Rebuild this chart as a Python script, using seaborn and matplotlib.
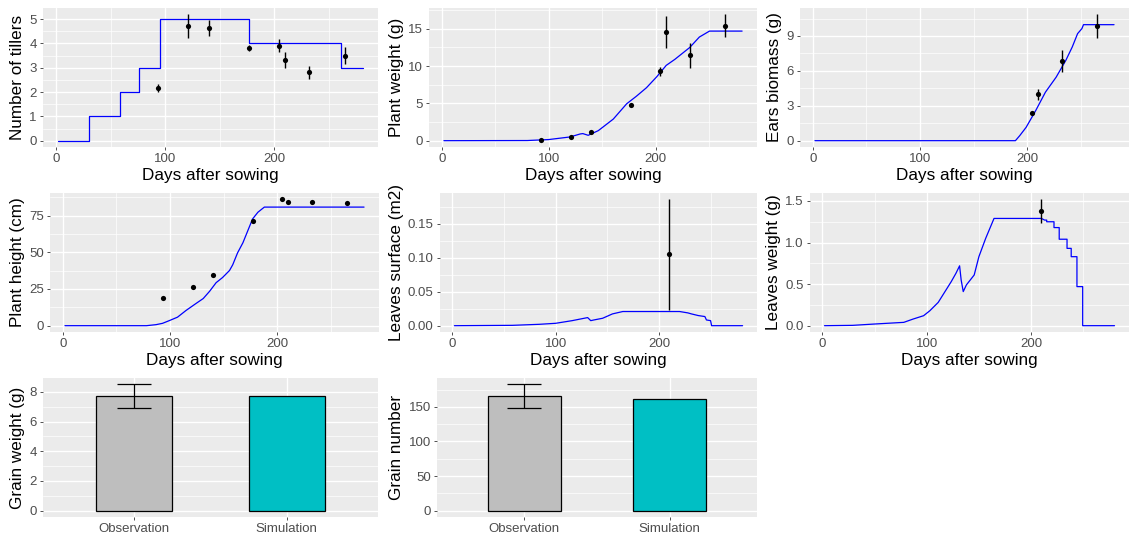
import numpy as np
import pandas as pd
import matplotlib
matplotlib.use("Agg")
import matplotlib.pyplot as plt
from matplotlib.ticker import MultipleLocator, AutoMinorLocator, FormatStrFormatter
import seaborn as sns

# 观测日期
obs_days = [93, 121, 140, 177, 204, 210, 232, 265]

# 分蘖数
till_sim_days = [2, 30, 59, 76, 95, 177, 261, 281]
till_sim = [0, 1, 2, 3, 5, 4, 3, 3]
till_obs = [2.17, 4.72, 4.65, 3.83, 3.90, 3.33, 2.82, 3.50]
till_sd = [0.15, 0.48, 0.33, 0.12, 0.27, 0.32, 0.27, 0.35]

# 植株重量
pw_sim_days = [2, 80, 100, 120, 129.5, 132, 137, 146.5, 160.5, 173, 182, 191.5, 201,
               210, 218, 232, 241, 250.5, 281]
pw_sim = [0, 0.02, 0.15, 0.5, 0.9, 0.95, 0.72, 1.35, 2.9, 4.95, 5.95, 7.1, 8.55,
          10.1, 10.9, 12.5, 13.9, 14.7, 14.7]
pw_obs = [0.05, 0.54, 1.13, 4.73, 9.32, 14.6, 11.44, 15.45]
pw_sd = [0.05, 0.10, 0.15, 0.20, 0.60, 2.15, 1.70, 1.50]

# 穗生物量
ear_sim_days = [2, 189, 193, 199, 208, 217, 227, 236, 242, 247, 251, 252.5, 281]
ear_sim = [0, 0, 0.43, 1.15, 2.6, 4.17, 5.46, 6.9, 8.05, 9.2, 9.63, 9.97, 9.97]
ear_obs_days = [204, 210, 232, 265]
ear_obs = [2.36, 3.97, 6.84, 9.86]
ear_sd = [0.10, 0.50, 0.97, 1.00]

# 株高
ht_sim_days = [2, 78, 87, 93, 99.5, 107, 115, 124, 131, 137, 143, 149, 155.5, 158.5,
               163, 168, 172.5, 177, 182, 188, 281]
ht_sim = [0, 0, 0.7, 1.6, 3.5, 5.8, 10.4, 15, 18.5, 23.5, 29.3, 32.8, 37.6, 41.5,
          49.6, 56.5, 64.6, 72.7, 77.3, 80.8, 80.8]
ht_obs = [18.9, 26.5, 34.6, 71.5, 86.1, 84.2, 84.2, 83.3]

# 叶面积
ls_sim_days = [2, 58, 84, 100, 116, 131, 134, 137, 145.5, 155, 165, 220, 228, 231.5,
               238, 244.5, 246, 250, 251, 281]
ls_sim = [0, 0.0005, 0.002, 0.0035, 0.0074, 0.0119, 0.0074, 0.0084, 0.0109, 0.0173,
          0.0208, 0.0208, 0.0188, 0.0173, 0.0149, 0.0134, 0.0084, 0.0074, 0, 0]
ls_obs_days = [210]
ls_obs = [0.1047]
ls_sd = [0.081]

# 叶重量
lw_sim_days = [2, 29, 50, 78, 87, 97, 103, 111, 117, 123.5, 128, 131.5, 133, 135, 138,
               145.5, 150, 156.5, 164.5, 210, 213, 215, 215, 222, 222, 227, 227, 234.5,
               234.5, 238.5, 238.5, 244, 244, 249.5, 249.5, 280]
lw_sim = [0, 0.004, 0.02, 0.04, 0.08, 0.12, 0.18, 0.28, 0.40, 0.53, 0.63, 0.72, 0.55,
          0.41, 0.49, 0.61, 0.83, 1.05, 1.29, 1.29, 1.27, 1.27, 1.25, 1.25, 1.18, 1.18,
          1.04, 1.04, 0.93, 0.93, 0.83, 0.83, 0.47, 0.47, 0, 0]
lw_obs_days = [210]
lw_obs = [1.38]
lw_sd = [0.14]

# 籽粒
bar_labels = ["Observation", "Simulation"]
gw_values = [7.72, 7.75]
gw_sd = 0.79
gn_values = [165.6, 160.7]
gn_sd = 17.0

sns.set_theme(style="darkgrid")
plt.rcParams["font.family"] = ["Liberation Sans", "DejaVu Sans"]
plt.rcParams["axes.facecolor"] = "#EBEBEB"

W, H = 1130, 538
fig = plt.figure(figsize=(W / 100, H / 100), dpi=100)


def make_ax(x0, x1, y0, y1):
    return fig.add_axes([x0 / W, 1 - y1 / H, (x1 - x0) / W, (y1 - y0) / H])


def style(ax, ymaj, xlabel, ylabel, fmt=None, xminor=True):
    for s in ax.spines.values():
        s.set_visible(False)
    ax.yaxis.set_major_locator(MultipleLocator(ymaj))
    ax.yaxis.set_minor_locator(AutoMinorLocator(2))
    if fmt:
        ax.yaxis.set_major_formatter(FormatStrFormatter(fmt))
    if xminor:
        ax.xaxis.set_major_locator(MultipleLocator(100))
        ax.xaxis.set_minor_locator(AutoMinorLocator(2))
    ax.grid(True, which="major", color="white", linewidth=1.0)
    ax.grid(True, which="minor", color="white", linewidth=0.5)
    if not xminor:
        ax.grid(False, axis="x", which="minor")
    ax.tick_params(which="major", length=2.5, width=0.6, color="#333333",
                   labelsize=9.5, labelcolor="#4D4D4D", pad=2)
    ax.tick_params(which="minor", length=0)
    ax.tick_params(axis="both", which="major", bottom=True, left=True)
    ax.set_xlabel(xlabel, fontsize=12.3, color="black", labelpad=2)
    ax.set_ylabel(ylabel, fontsize=12.3, color="black", labelpad=3)


def time_panel(ax, sdays, ssim, odays, obs, sd, ymaj, ylabel, fmt=None, steps=False):
    sns.lineplot(x=sdays, y=ssim, ax=ax, color="blue", linewidth=0.9,
                 estimator=None, sort=False,
                 drawstyle="steps-post" if steps else "default")
    if sd is not None:
        ax.errorbar(odays, obs, yerr=sd, fmt="none", ecolor="black", elinewidth=1.0)
    sns.scatterplot(x=odays, y=obs, ax=ax, color="black", s=14, edgecolor="black",
                    linewidth=0, zorder=5)
    ax.use_sticky_edges = False
    ax.margins(x=0.05, y=0.05)
    style(ax, ymaj, "Days after sowing", ylabel, fmt)


ax1 = make_ax(43, 378, 8, 147)
time_panel(ax1, till_sim_days, till_sim, obs_days, till_obs, till_sd, 1,
           "Number of tillers", steps=True)

ax2 = make_ax(429, 757, 8, 147)
time_panel(ax2, pw_sim_days, pw_sim, obs_days, pw_obs, pw_sd, 5, "Plant weight (g)")

ax3 = make_ax(800, 1129, 8, 147)
time_panel(ax3, ear_sim_days, ear_sim, ear_obs_days, ear_obs, ear_sd, 3, "Ears biomass (g)")

ax4 = make_ax(50, 379, 193, 332)
time_panel(ax4, ht_sim_days, ht_sim, obs_days, ht_obs, None, 25, "Plant height (cm)")

ax5 = make_ax(440, 757, 193, 332)
time_panel(ax5, ls_sim_days, ls_sim, ls_obs_days, ls_obs, ls_sd, 0.05,
           "Leaves surface (m2)", fmt="%.2f")

ax6 = make_ax(810, 1129, 193, 332)
time_panel(ax6, lw_sim_days, lw_sim, lw_obs_days, lw_obs, lw_sd, 0.5,
           "Leaves weight (g)", fmt="%.1f")


def bar_panel(ax, values, sd, ymaj, ylabel):
    sns.barplot(x=bar_labels, y=values, hue=bar_labels, palette=["#BEBEBE", "#00BFC4"],
                saturation=1, width=0.5, edgecolor="black", linewidth=0.9,
                legend=False, ax=ax, zorder=3)
    ax.errorbar([0], [values[0]], yerr=[sd], fmt="none", ecolor="black",
                elinewidth=0.9, capsize=12.5, capthick=0.9, zorder=4)
    ax.use_sticky_edges = False
    ax.relim()
    ax.autoscale_view()
    ax.margins(y=0.05)
    ax.set_xlim(-0.6, 1.6)
    style(ax, ymaj, "", ylabel, xminor=False)
    ax.set_xlabel("")


ax7 = make_ax(43, 378, 378, 517)
bar_panel(ax7, gw_values, gw_sd, 2, "Grain weight (g)")

ax8 = make_ax(437, 757, 378, 517)
bar_panel(ax8, gn_values, gn_sd, 50, "Grain number")

fig.savefig("out.png", dpi=100)
